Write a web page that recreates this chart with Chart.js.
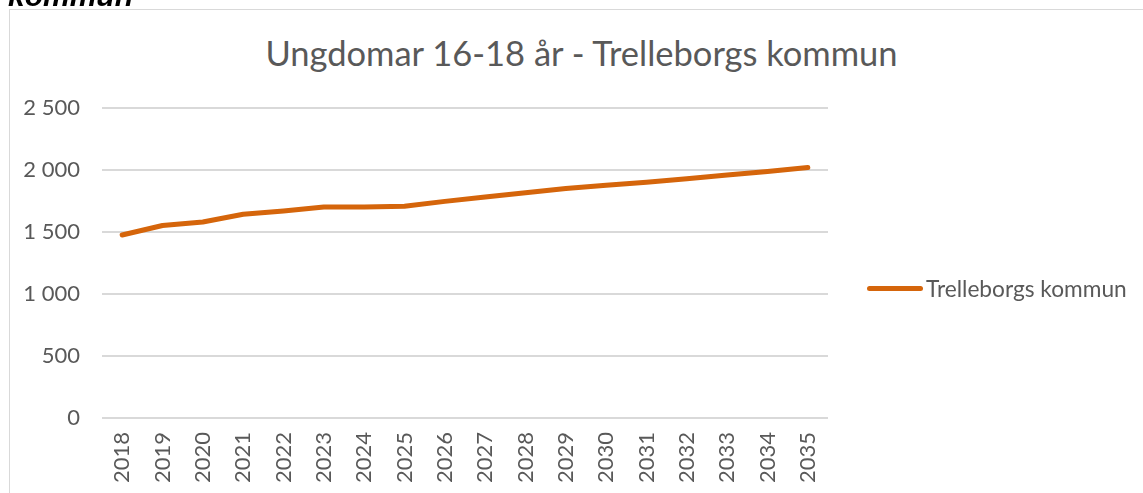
<!DOCTYPE html>
<html>
<head>
<meta charset="utf-8">
<script src="https://cdn.jsdelivr.net/npm/chart.js@4.4.1/dist/chart.umd.min.js"></script>
<style>
  html, body { margin: 0; padding: 0; background: #fff; width: 1143px; height: 493px; overflow: hidden; }
  #frame { position: absolute; left: 9px; top: 9px; width: 1200px; height: 600px; border: 1px solid #d9d9d9; box-sizing: border-box; }
  #head { position: absolute; left: 8px; top: -21px; line-height: 30px; font: italic bold 30px "Liberation Sans", sans-serif; color: #000; white-space: nowrap; z-index: 5; }
  #title { position: absolute; left: 0; width: 1163px; top: 32px; text-align: center; font: 34.5px Lato, sans-serif; color: #595959; white-space: nowrap; }
  #legend { position: absolute; left: 867px; top: 275px; font: 22.7px Lato, sans-serif; color: #595959; white-space: nowrap; display: flex; align-items: center; }
  #legend .sw { display: inline-block; width: 56px; height: 5px; border-radius: 3px; background: #D5650B; margin-right: 3px; }
  #wrap { position: absolute; left: 0; top: 0; width: 1143px; height: 493px; }
  canvas { display: block; }
</style>
</head>
<body>
<div id="frame"></div>
<div id="title">Ungdomar 16-18 år - Trelleborgs kommun</div>
<div id="wrap"><canvas id="c" width="1143" height="493" style="width:1143px;height:493px"></canvas></div>
<div id="legend"><span class="sw"></span><span id="legtext"></span></div>
<div id="head">kommun</div>
<script>
const years = ["2018","2019","2020","2021","2022","2023","2024","2025","2026","2027","2028","2029","2030","2031","2032","2033","2034","2035"];
const seriesName = "Trelleborgs kommun";
const values = [1476, 1552, 1581, 1643, 1670, 1702, 1702, 1707, 1747, 1783, 1817, 1850, 1877, 1901, 1930, 1959, 1987, 2021];
const yTicks = [0, 500, 1000, 1500, 2000, 2500];

document.getElementById('legtext').textContent = seriesName;

function fmt(v) { return String(v).replace(/\B(?=(\d{3})+(?!\d))/g, ' '); }

new Chart(document.getElementById('c'), {
  type: 'line',
  data: {
    labels: years,
    datasets: [{
      label: seriesName,
      data: values,
      borderColor: '#D5650B',
      backgroundColor: '#D5650B',
      borderWidth: 5,
      pointRadius: 0,
      borderCapStyle: 'round',
      borderJoinStyle: 'round',
      tension: 0
    }]
  },
  options: {
    responsive: false,
    maintainAspectRatio: false,
    animation: false,
    devicePixelRatio: 1,
    layout: { padding: { top: 108, right: 315, bottom: 0, left: 0 } },
    plugins: { legend: { display: false }, title: { display: false }, tooltip: { enabled: false } },
    scales: {
      x: {
        offset: true,
        grid: { display: false, drawTicks: false },
        border: { display: false },
        ticks: { color: '#595959', font: { family: 'Lato', size: 22 }, minRotation: 90, maxRotation: 90, padding: 14, autoSkip: false },
        afterFit: (a) => { a.height = 75; }
      },
      y: {
        min: 0, max: 2500,
        afterBuildTicks: (a) => { a.ticks = yTicks.map(v => ({ value: v })); },
        grid: { color: '#d9d9d9', lineWidth: 2, drawTicks: false },
        border: { display: false },
        ticks: { color: '#595959', font: { family: 'Lato', size: 22 }, padding: 22, callback: (v) => fmt(v) },
        afterFit: (a) => { a.width = 102; }
      }
    }
  }
});
</script>
</body>
</html>
